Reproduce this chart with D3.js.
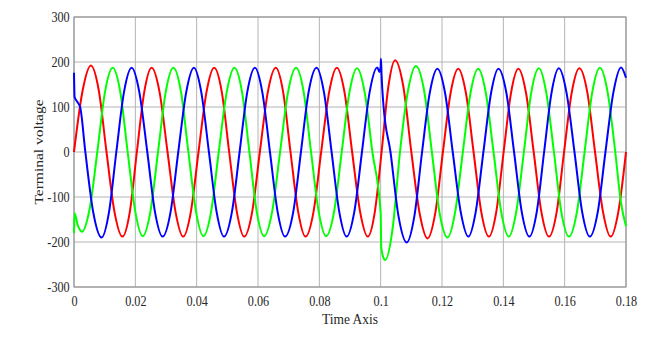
<!DOCTYPE html>
<html>
<head>
<meta charset="utf-8">
<script src="https://cdn.jsdelivr.net/npm/d3@7"></script>
<style>
  body { margin: 0; background: #fff; }
  svg { display: block; }
</style>
</head>
<body>
<div id="chart"></div>
<script>
// tick labels
let xTicks = [0, 0.02, 0.04, 0.06, 0.08, 0.1, 0.12, 0.14, 0.16, 0.18];
let yTicks = [-300, -200, -100, 0, 100, 200, 300];

// phase a (red) - time, voltage
let redT = [0, 0.0028, 0.0055, 0.0081, 0.0106, 0.0132, 0.0158, 0.0182, 0.0205, 0.0229,
    0.0253, 0.0279, 0.0305, 0.0331, 0.0356, 0.0381, 0.0406, 0.0432, 0.0457, 0.0482,
    0.0506, 0.0531, 0.0555, 0.0581, 0.0606, 0.0632, 0.0658, 0.0682, 0.0706, 0.0731,
    0.0755, 0.0781, 0.0806, 0.0832, 0.0857, 0.0882, 0.0907, 0.0933, 0.0958, 0.0981,
    0.1003, 0.1025, 0.1047, 0.1074, 0.1100, 0.1127, 0.1153, 0.1178, 0.1203, 0.1228,
    0.1253, 0.1278, 0.1303, 0.1328, 0.1353, 0.1377, 0.1401, 0.1425, 0.1449, 0.1474,
    0.1499, 0.1524, 0.1549, 0.1574, 0.1598, 0.1623, 0.1648, 0.1674, 0.1699, 0.1725,
    0.1750, 0.1775, 0.1800];
let redV = [0, 136, 192, 136, 0, -133, -188, -133, 0, 133,
    187, 133, 0, -133, -188, -133, 0, 133, 187, 133,
    0, -133, -188, -133, 0, 133, 187, 133, 0, -133,
    -188, -133, 0, 133, 187, 133, 0, -133, -188, -133,
    0, 145, 204, 145, 0, -136, -192, -136, 0, 131,
    185, 131, 0, -133, -188, -133, 0, 131, 185, 131,
    0, -133, -188, -133, 0, 132, 186, 132, 0, -133,
    -188, -133, 0];

// phase b (green)
let greenT = [0, 0.0002, 0.0012, 0.0026, 0.0051, 0.0076, 0.0101, 0.0126, 0.0151, 0.0175,
    0.0200, 0.0224, 0.0249, 0.0274, 0.0299, 0.0324, 0.0349, 0.0373, 0.0398, 0.0422,
    0.0447, 0.0472, 0.0498, 0.0523, 0.0548, 0.0572, 0.0596, 0.0620, 0.0646, 0.0672,
    0.0698, 0.0724, 0.0749, 0.0773, 0.0798, 0.0822, 0.0848, 0.0873, 0.0898, 0.0923,
    0.0948, 0.0973, 0.1000, 0.1002, 0.1008, 0.1015, 0.1039, 0.1063, 0.1089, 0.1115,
    0.1142, 0.1167, 0.1192, 0.1218, 0.1243, 0.1268, 0.1293, 0.1318, 0.1343, 0.1368,
    0.1393, 0.1418, 0.1442, 0.1467, 0.1491, 0.1516, 0.1540, 0.1565, 0.1589, 0.1614,
    0.1640, 0.1665, 0.1690, 0.1715, 0.1740, 0.1765, 0.1783, 0.1800];
let greenV = [-180, -136, -162, -177, -126, 0, 133, 187, 133, 0,
    -133, -187, -133, 0, 133, 187, 133, 0, -133, -187,
    -133, 0, 133, 187, 133, 0, -133, -187, -133, 0,
    133, 187, 133, 0, -133, -187, -133, 0, 132, 186,
    132, 0, -136, -212, -233, -240, -170, 0, 136, 191,
    135, 0, -135, -190, -133, 0, 131, 185, 131, 0,
    -133, -188, -133, 0, 132, 186, 132, 0, -133, -188,
    -133, 0, 133, 187, 133, 0, -110, -165];

// phase c (blue)
let blueT = [0, 0.0002, 0.0010, 0.0020, 0.0037, 0.0063, 0.0090, 0.0114, 0.0138, 0.0163,
    0.0188, 0.0213, 0.0239, 0.0264, 0.0289, 0.0315, 0.0340, 0.0366, 0.0391, 0.0415,
    0.0440, 0.0465, 0.0489, 0.0515, 0.0540, 0.0565, 0.0590, 0.0614, 0.0639, 0.0664,
    0.0688, 0.0715, 0.0740, 0.0765, 0.0791, 0.0815, 0.0840, 0.0865, 0.0889, 0.0914,
    0.0939, 0.0964, 0.0989, 0.0996, 0.1000, 0.1001, 0.1003, 0.1009, 0.1032, 0.1058,
    0.1085, 0.1110, 0.1135, 0.1160, 0.1185, 0.1210, 0.1235, 0.1261, 0.1286, 0.1310,
    0.1335, 0.1360, 0.1384, 0.1410, 0.1435, 0.1460, 0.1485, 0.1509, 0.1533, 0.1557,
    0.1581, 0.1606, 0.1632, 0.1657, 0.1682, 0.1708, 0.1733, 0.1759, 0.1784, 0.1800];
let blueV = [176, 122, 112, 100, 0, -135, -190, -134, 0, 133,
    187, 133, 0, -133, -188, -133, 0, 133, 187, 133,
    0, -133, -188, -133, 0, 133, 187, 133, 0, -133,
    -188, -133, 0, 133, 187, 133, 0, -133, -188, -133,
    0, 133, 188, 178, 190, 207, 170, 105, 0, -142,
    -201, -142, 0, 131, 185, 131, 0, -133, -188, -133,
    0, 131, 185, 131, 0, -133, -188, -133, 0, 131,
    186, 132, 0, -133, -188, -133, 0, 133, 188, 165];

let series = [
    { name: 'a', color: '#ff0000', t: redT, v: redV },
    { name: 'b', color: '#00ff00', t: greenT, v: greenV },
    { name: 'c', color: '#0000ff', t: blueT, v: blueV }
];

let width = 672;
let height = 342;
let margin = { top: 17, right: 46, bottom: 55, left: 74 };
let font = '"Liberation Serif", "Times New Roman", serif';
let squeeze = 0.87; // source figure text is a bit narrow

let svg = d3.select('#chart')
    .append('svg')
    .attr('width', width)
    .attr('height', height);

let x = d3.scaleLinear()
    .domain([0, 0.18])
    .range([margin.left, width - margin.right]);
let y = d3.scaleLinear()
    .domain([-300, 300])
    .range([height - margin.bottom, margin.top]);

// grid
svg.append('g')
    .selectAll('line')
    .data(xTicks)
    .enter().append('line')
    .attr('x1', d => x(d)).attr('x2', d => x(d))
    .attr('y1', y(-300)).attr('y2', y(300))
    .attr('stroke', '#b4b4b4')
    .attr('stroke-width', 1);
svg.append('g')
    .selectAll('line')
    .data(yTicks)
    .enter().append('line')
    .attr('x1', x(0)).attr('x2', x(0.18))
    .attr('y1', d => y(d)).attr('y2', d => y(d))
    .attr('stroke', '#b4b4b4')
    .attr('stroke-width', 1);

// box
svg.append('rect')
    .attr('x', x(0))
    .attr('y', y(300))
    .attr('width', x(0.18) - x(0))
    .attr('height', y(-300) - y(300))
    .attr('fill', 'none')
    .attr('stroke', '#8c8c8c')
    .attr('stroke-width', 1);

// waves
let line = d3.line()
    .x(d => x(d[0]))
    .y(d => y(d[1]))
    .curve(d3.curveMonotoneX);

series.forEach(s => {
    let pts = s.t.map((t, i) => [t, s.v[i]]);
    svg.append('path')
        .datum(pts)
        .attr('fill', 'none')
        .attr('stroke', s.color)
        .attr('stroke-width', 2)
        .attr('d', line);
});

// axes (labels only)
let xAxis = svg.append('g')
    .attr('transform', 'translate(0,' + y(-300) + ')')
    .call(d3.axisBottom(x).tickValues(xTicks).tickSize(0).tickPadding(9).tickFormat(d => String(d)));
let yAxis = svg.append('g')
    .attr('transform', 'translate(' + x(0) + ',0)')
    .call(d3.axisLeft(y).tickValues(yTicks).tickSize(0).tickPadding(5).tickFormat(d => String(d)));

[xAxis, yAxis].forEach(g => {
    g.select('.domain').remove();
    g.selectAll('text')
        .style('font-family', font)
        .style('font-size', '14px')
        .attr('fill', '#262626')
        .attr('transform', 'scale(' + squeeze + ',1)');
});

svg.append('text')
    .attr('transform', 'translate(' + (x(0) + x(0.18)) / 2 + ',324) scale(' + squeeze + ',1)')
    .attr('text-anchor', 'middle')
    .style('font-family', font)
    .style('font-size', '15.5px')
    .attr('fill', '#262626')
    .text('Time Axis');

svg.append('text')
    .attr('transform', 'translate(43,' + y(0) + ') scale(' + squeeze + ',1) rotate(-90)')
    .attr('text-anchor', 'middle')
    .style('font-family', font)
    .style('font-size', '15.5px')
    .attr('fill', '#262626')
    .text('Terminal voltage');
</script>
</body>
</html>
